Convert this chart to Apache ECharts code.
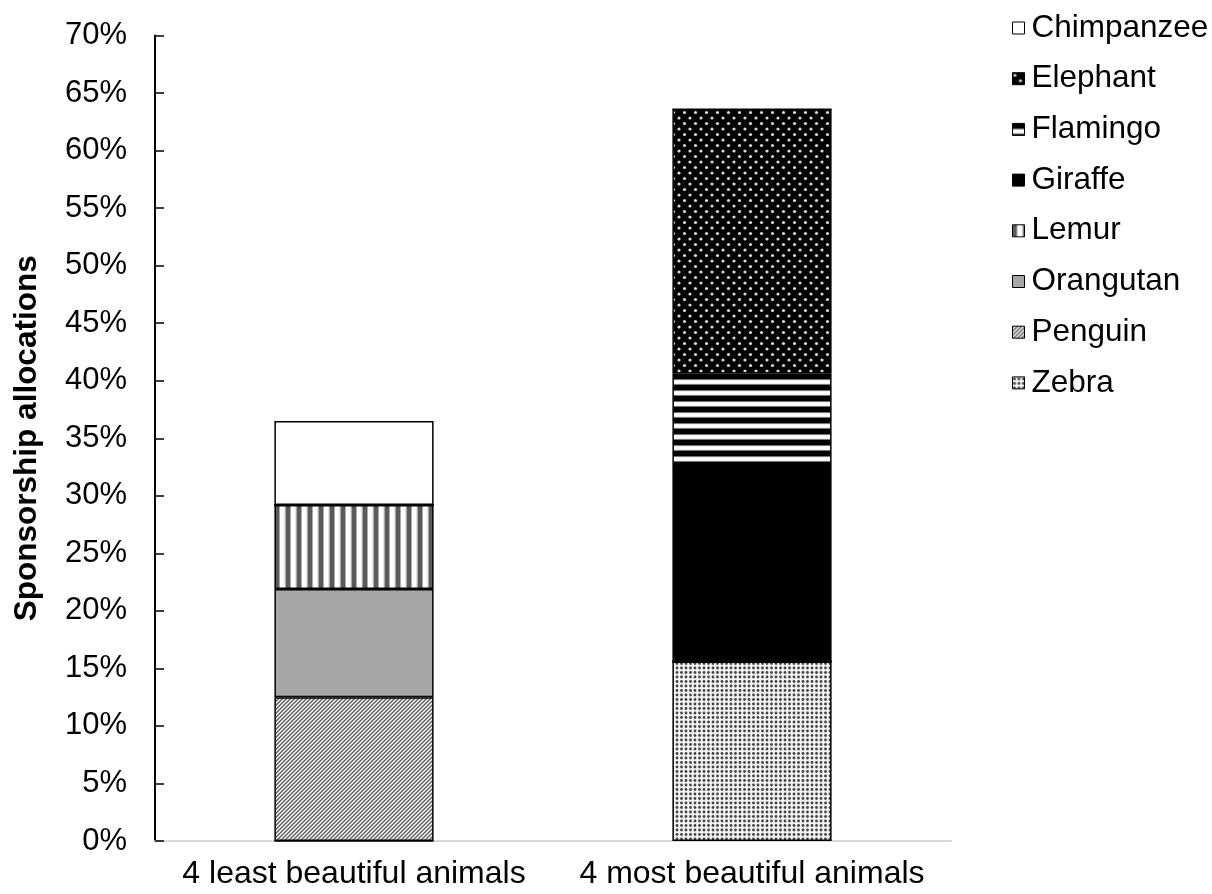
<!DOCTYPE html>
<html><head><meta charset="utf-8">
<script src="https://cdn.jsdelivr.net/npm/echarts@6/dist/echarts.min.js"></script>
<style>html,body{margin:0;padding:0;background:#fff}#c{width:1212px;height:894px}</style>
</head><body><div id="c"></div>
<script>
// ---- data ----
const categories = ['4 least beautiful animals', '4 most beautiful animals'];
const legendOrder = ['Chimpanzee','Elephant','Flamingo','Giraffe','Lemur','Orangutan','Penguin','Zebra'];
// stacking order, bottom to top
const stackOrder = ['Zebra','Penguin','Orangutan','Lemur','Giraffe','Flamingo','Elephant','Chimpanzee'];
const zebra      = [0, 15.6];
const penguin    = [12.5, 0];
const orangutan  = [9.4, 0];
const lemur      = [7.3, 0];
const giraffe    = [0, 16.9];
const flamingo   = [0, 8.1];
const elephant   = [0, 23.0];
const chimpanzee = [7.3, 0];
const values = {Zebra: zebra, Penguin: penguin, Orangutan: orangutan, Lemur: lemur,
  Giraffe: giraffe, Flamingo: flamingo, Elephant: elephant, Chimpanzee: chimpanzee};
const yTicks = {min: 0, max: 70, interval: 5};

// ---- patterns ----
function tile(w, h, draw) {
  const c = document.createElement('canvas'); c.width = w; c.height = h;
  const ctx = c.getContext('2d'); draw(ctx, w, h); return c;
}
const pat = {
  Chimpanzee: '#ffffff',
  Giraffe: '#000000',
  Orangutan: '#a6a6a6',
  Penguin: {image: tile(8, 8, (ctx) => {
    const img = ctx.createImageData(8, 8);
    for (let y = 0; y < 8; y++) for (let x = 0; x < 8; x++) {
      const k = (x + y) % 4; const v = k === 0 ? 90 : k === 1 ? 150 : k === 2 ? 250 : 200;
      const i = (y * 8 + x) * 4; img.data[i] = img.data[i+1] = img.data[i+2] = v; img.data[i+3] = 255;
    }
    ctx.putImageData(img, 0, 0);
  }), repeat: 'repeat'},
  Lemur: {image: tile(11, 4, (ctx) => {
    const cols = [90,90,90,90,170,255,255,255,255,230,170];
    cols.forEach((v, x) => { ctx.fillStyle = `rgb(${v},${v},${v})`; ctx.fillRect(x, 0, 1, 4); });
  }), repeat: 'repeat'},
  Flamingo: {image: tile(4, 11, (ctx) => {
    const rows = [0,0,0,0,0,120,240,255,255,240,120];
    rows.forEach((v, y) => { ctx.fillStyle = `rgb(${v},${v},${v})`; ctx.fillRect(0, y, 4, 1); });
  }), repeat: 'repeat'},
  Elephant: {image: tile(11, 11, (ctx) => {
    ctx.fillStyle = '#000'; ctx.fillRect(0, 0, 11, 11);
    ctx.fillStyle = '#d8d8d8';
    [[2.5,2.5],[8,8]].forEach(([x,y]) => { ctx.beginPath(); ctx.arc(x, y, 1.6, 0, Math.PI*2); ctx.fill(); });
  }), repeat: 'repeat'},
  Zebra: {image: tile(9, 9, (ctx) => {
    ctx.fillStyle = '#f4f4f4'; ctx.fillRect(0, 0, 9, 9);
    ctx.fillStyle = '#444';
    [[2,2],[6.5,2],[2,6.5],[6.5,6.5]].forEach(([x,y]) => { ctx.beginPath(); ctx.arc(x, y, 1.4, 0, Math.PI*2); ctx.fill(); });
  }), repeat: 'repeat'}
};

const FONT = '"Liberation Sans", Arial, sans-serif';
const series = stackOrder.map(name => ({
  name, type: 'bar', stack: 'all', barWidth: '40%',
  data: values[name],
  itemStyle: {color: pat[name], borderColor: '#000', borderWidth: 1.5},
  emphasis: {disabled: true}
}));

const chart = echarts.init(document.getElementById('c'), null, {renderer: 'canvas'});
chart.setOption({
  animation: false,
  backgroundColor: '#fff',
  grid: {left: 155, right: 261, top: 35.5, bottom: 53, containLabel: false},
  legend: {
    data: legendOrder, orient: 'vertical', left: 1012, top: 12, padding: 0,
    itemWidth: 12, itemHeight: 12, itemGap: 18.7,
    icon: 'rect',
    textStyle: {fontFamily: FONT, fontSize: 31.5, color: '#000', lineHeight: 31, padding: [0,0,0,2]},
    itemStyle: {borderColor: '#000', borderWidth: 1}
  },
  xAxis: {
    type: 'category', data: categories,
    axisLine: {lineStyle: {color: '#d9d9d9', width: 2}},
    axisTick: {show: false},
    axisLabel: {fontFamily: FONT, fontSize: 32, color: '#000', margin: 17, interval: 0, hideOverlap: false}
  },
  yAxis: {
    type: 'value', min: yTicks.min, max: yTicks.max, interval: yTicks.interval,
    name: 'Sponsorship allocations', nameLocation: 'middle', nameGap: 112,
    nameTextStyle: {fontFamily: FONT, fontSize: 31.5, fontWeight: 'bold', color: '#000'},
    axisLine: {show: true, lineStyle: {color: '#000', width: 2}},
    axisTick: {show: true, inside: true, length: 9, lineStyle: {color: '#000', width: 1.5}},
    splitLine: {show: false},
    axisLabel: {fontFamily: FONT, fontSize: 31, color: '#000', margin: 28, formatter: v => v + '%'}
  },
  series
});
</script></body></html>
